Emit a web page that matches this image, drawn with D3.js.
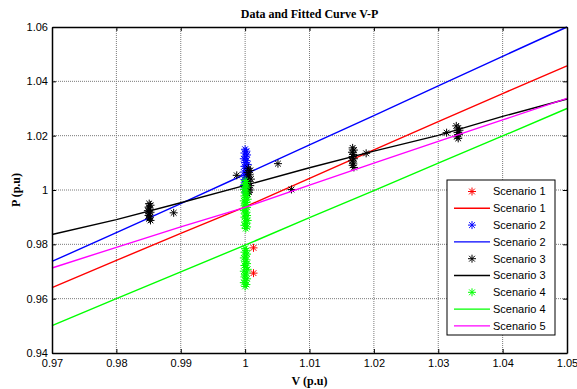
<!DOCTYPE html>
<html>
<head>
<meta charset="utf-8">
<script src="https://cdn.jsdelivr.net/npm/d3@7/dist/d3.min.js"></script>
<style>
  body { margin: 0; background: #fff; }
  svg { display: block; }
</style>
</head>
<body>
<div id="chart"></div>
<script>
// Fitted curves sampled at the x ticks
const vGrid = [0.97, 0.98, 0.99, 1.00, 1.01, 1.02, 1.03, 1.04, 1.05];
const fit1 = [0.9641, 0.9741, 0.9840, 0.9938, 1.0043, 1.0148, 1.0252, 1.0355, 1.0457];
const fit2 = [0.9737, 0.9843, 0.9950, 1.0058, 1.0166, 1.0274, 1.0383, 1.0492, 1.0600];
const fit3 = [0.9836, 0.9891, 0.9953, 1.0017, 1.0082, 1.0143, 1.0201, 1.0271, 1.0335];
const fit4 = [0.9501, 0.9600, 0.9699, 0.9797, 0.9898, 0.9998, 1.0099, 1.0199, 1.0300];
const fit5 = [0.9713, 0.9789, 0.9864, 0.9936, 1.0018, 1.0099, 1.0179, 1.0258, 1.0337];

// Measured points [V, P]
const pts1 = [[1.0013, 0.9787], [1.0013, 0.9694]];
const pts2 = [
  [1.0000,1.0150],[1.0002,1.0143],[0.9999,1.0136],[1.0003,1.0129],[1.0001,1.0122],[0.9998,1.0115],
  [1.0002,1.0108],[1.0000,1.0101],[1.0004,1.0094],[0.9999,1.0087],[1.0001,1.0080],[1.0003,1.0073],
  [0.9998,1.0066],[1.0002,1.0059],[1.0000,1.0052],[1.0003,1.0045],[0.9999,1.0038],[1.0001,1.0031],
  [1.0004,1.0024],[0.9998,1.0017],[1.0002,1.0010],[1.0000,1.0003],[1.0003,0.9996],[1.0001,0.9989]
];
const pts3 = [
  [0.9851,0.9950],[0.9853,0.9944],[0.9850,0.9937],[0.9852,0.9930],[0.9849,0.9924],[0.9853,0.9918],
  [0.9851,0.9912],[0.9850,0.9906],[0.9852,0.9900],[0.9851,0.9894],[0.9853,0.9888],
  [0.9889,0.9916],
  [0.9987,1.0054],[1.0005,1.0080],[1.0008,1.0072],[1.0004,1.0064],[1.0007,1.0056],[1.0005,1.0048],
  [1.0009,1.0040],[1.0006,1.0032],[1.0004,1.0024],[1.0008,1.0016],[1.0005,1.0008],[1.0007,1.0000],
  [1.0006,0.9992],[1.0004,0.9986],
  [1.0051,1.0097],[1.0072,1.0002],
  [1.0167,1.0155],[1.0169,1.0147],[1.0166,1.0139],[1.0168,1.0131],[1.0167,1.0123],[1.0169,1.0115],
  [1.0166,1.0107],[1.0168,1.0099],[1.0167,1.0091],[1.0169,1.0083],
  [1.0188,1.0135],
  [1.0313,1.0211],[1.0328,1.0236],[1.0331,1.0228],[1.0333,1.0220],[1.0330,1.0212],[1.0332,1.0204],
  [1.0329,1.0196],[1.0331,1.0190]
];
const pts4 = [
  [1.0000,1.0035],[1.0002,1.0028],[0.9999,1.0020],[1.0003,1.0014],[1.0001,1.0008],[0.9998,1.0002],
  [1.0002,0.9996],[1.0000,0.9990],[1.0003,0.9984],[0.9999,0.9978],[1.0001,0.9972],[1.0004,0.9966],
  [0.9998,0.9960],[1.0002,0.9954],[1.0000,0.9948],[0.9999,0.9942],[1.0003,0.9936],[1.0001,0.9930],
  [0.9998,0.9924],[1.0002,0.9918],[1.0000,0.9912],[1.0003,0.9906],[0.9999,0.9900],[1.0001,0.9894],
  [1.0004,0.9888],[1.0000,0.9882],[1.0002,0.9876],[0.9999,0.9870],[1.0003,0.9864],[1.0001,0.9858],
  [1.0000,0.9785],[1.0002,0.9778],[0.9999,0.9771],[1.0003,0.9764],[1.0001,0.9757],[0.9998,0.9750],
  [1.0002,0.9743],[1.0000,0.9736],[1.0003,0.9729],[0.9999,0.9722],[1.0001,0.9715],[1.0004,0.9708],
  [0.9998,0.9701],[1.0002,0.9694],[1.0000,0.9687],[0.9999,0.9680],[1.0003,0.9673],[1.0001,0.9666],
  [0.9998,0.9659],[1.0002,0.9652],[1.0000,0.9645]
];

const xTicks = [0.97, 0.98, 0.99, 1, 1.01, 1.02, 1.03, 1.04, 1.05];
const yTicks = [0.94, 0.96, 0.98, 1, 1.02, 1.04, 1.06];

const legendItems = [
  { label: 'Scenario 1', color: '#ff0000', type: 'marker' },
  { label: 'Scenario 1', color: '#ff0000', type: 'line' },
  { label: 'Scenario 2', color: '#0000ff', type: 'marker' },
  { label: 'Scenario 2', color: '#0000ff', type: 'line' },
  { label: 'Scenario 3', color: '#000000', type: 'marker' },
  { label: 'Scenario 3', color: '#000000', type: 'line' },
  { label: 'Scenario 4', color: '#00ff00', type: 'marker' },
  { label: 'Scenario 4', color: '#00ff00', type: 'line' },
  { label: 'Scenario 5', color: '#ff00ff', type: 'line' }
];

const width = 577;
const height = 389;
const margin = { top: 27, right: 10, bottom: 36, left: 52 };
const innerW = width - margin.left - margin.right;
const innerH = height - margin.top - margin.bottom;

const svg = d3.select('#chart')
  .append('svg')
  .attr('width', width)
  .attr('height', height);

const g = svg.append('g').attr('transform', `translate(${margin.left},${margin.top})`);

const x = d3.scaleLinear().domain([0.97, 1.05]).range([0, innerW]);
const y = d3.scaleLinear().domain([0.94, 1.06]).range([innerH, 0]);

// Dotted grid
g.append('g')
  .selectAll('line')
  .data(xTicks.slice(1, -1))
  .enter()
  .append('line')
  .attr('x1', d => x(d)).attr('x2', d => x(d))
  .attr('y1', 0).attr('y2', innerH)
  .attr('stroke', '#7a7a7a')
  .attr('stroke-width', 1)
  .attr('stroke-dasharray', '1,1');

g.append('g')
  .selectAll('line')
  .data(yTicks.slice(1, -1))
  .enter()
  .append('line')
  .attr('x1', 0).attr('x2', innerW)
  .attr('y1', d => y(d)).attr('y2', d => y(d))
  .attr('stroke', '#7a7a7a')
  .attr('stroke-width', 1)
  .attr('stroke-dasharray', '1,1');

const line = d3.line()
  .x(d => x(d[0]))
  .y(d => y(d[1]));

function asterisk(sel, color) {
  const r = 4;
  const k = r * 0.72;
  sel.append('path')
    .attr('d', `M${-r},0H${r}M0,${-r}V${r}M${-k},${-k}L${k},${k}M${-k},${k}L${k},${-k}`)
    .attr('stroke', color)
    .attr('stroke-width', 1)
    .attr('fill', 'none');
}

function drawPoints(pts, color) {
  g.append('g')
    .selectAll('g')
    .data(pts)
    .enter()
    .append('g')
    .attr('transform', d => `translate(${x(d[0])},${y(d[1])})`)
    .call(asterisk, color);
}

function drawFit(vals, color) {
  g.append('path')
    .datum(vGrid.map((v, i) => [v, vals[i]]))
    .attr('d', line)
    .attr('fill', 'none')
    .attr('stroke', color)
    .attr('stroke-width', 1.4);
}

drawPoints(pts1, '#ff0000');
drawFit(fit1, '#ff0000');
drawPoints(pts2, '#0000ff');
drawFit(fit2, '#0000ff');
drawPoints(pts3, '#000000');
drawFit(fit3, '#000000');
drawPoints(pts4, '#00ff00');
drawFit(fit4, '#00ff00');
drawFit(fit5, '#ff00ff');

// Axes box with inward ticks on all sides
const tickFont = '"Liberation Sans", Arial, sans-serif';
const serif = '"Liberation Serif", "Times New Roman", serif';

const xAxis = g.append('g')
  .attr('transform', `translate(0,${innerH})`)
  .call(d3.axisBottom(x).tickValues(xTicks).tickSizeInner(-4).tickSizeOuter(0).tickPadding(6)
    .tickFormat(d => d3.format('')(+d.toFixed(2))));
xAxis.selectAll('text').style('font-family', tickFont).style('font-size', '11px').attr('fill', '#000');

const yAxis = g.append('g')
  .call(d3.axisLeft(y).tickValues(yTicks).tickSizeInner(-4).tickSizeOuter(0).tickPadding(4)
    .tickFormat(d => d3.format('')(+d.toFixed(2))));
yAxis.selectAll('text').style('font-family', tickFont).style('font-size', '11px').attr('fill', '#000');

g.append('g')
  .call(d3.axisTop(x).tickValues(xTicks).tickSizeInner(-4).tickSizeOuter(0).tickFormat(''));
g.append('g')
  .attr('transform', `translate(${innerW},0)`)
  .call(d3.axisRight(y).tickValues(yTicks).tickSizeInner(-4).tickSizeOuter(0).tickFormat(''));

g.selectAll('.domain').attr('stroke', '#000').attr('stroke-width', 1.5);
g.selectAll('.tick line').attr('stroke', '#000');

// Title and axis labels
svg.append('text')
  .attr('x', margin.left + innerW / 2)
  .attr('y', 18)
  .attr('text-anchor', 'middle')
  .style('font-family', serif)
  .style('font-weight', 'bold')
  .style('font-size', '12px')
  .text('Data and Fitted Curve V-P');

svg.append('text')
  .attr('x', margin.left + innerW / 2)
  .attr('y', 385)
  .attr('text-anchor', 'middle')
  .style('font-family', serif)
  .style('font-weight', 'bold')
  .style('font-size', '12px')
  .text('V (p.u)');

svg.append('text')
  .attr('transform', `translate(20,${margin.top + innerH / 2}) rotate(-90)`)
  .attr('text-anchor', 'middle')
  .style('font-family', serif)
  .style('font-weight', 'bold')
  .style('font-size', '12px')
  .text('P (p.u)');

// Legend
const legend = svg.append('g').attr('transform', 'translate(447,180)');
legend.append('rect')
  .attr('width', 108)
  .attr('height', 155)
  .attr('fill', '#fff')
  .attr('stroke', '#000')
  .attr('stroke-width', 1);

const rowH = 16.8;
legendItems.forEach((d, i) => {
  const row = legend.append('g').attr('transform', `translate(0,${11.5 + i * rowH})`);
  if (d.type === 'line') {
    row.append('line')
      .attr('x1', 7).attr('x2', 43)
      .attr('y1', 0).attr('y2', 0)
      .attr('stroke', d.color)
      .attr('stroke-width', 1.4);
  } else {
    row.append('g').attr('transform', 'translate(25,0)').call(asterisk, d.color);
  }
  row.append('text')
    .attr('x', 46)
    .attr('y', 0)
    .attr('dy', '0.35em')
    .style('font-family', tickFont)
    .style('font-size', '11px')
    .text(d.label);
});
</script>
</body>
</html>
